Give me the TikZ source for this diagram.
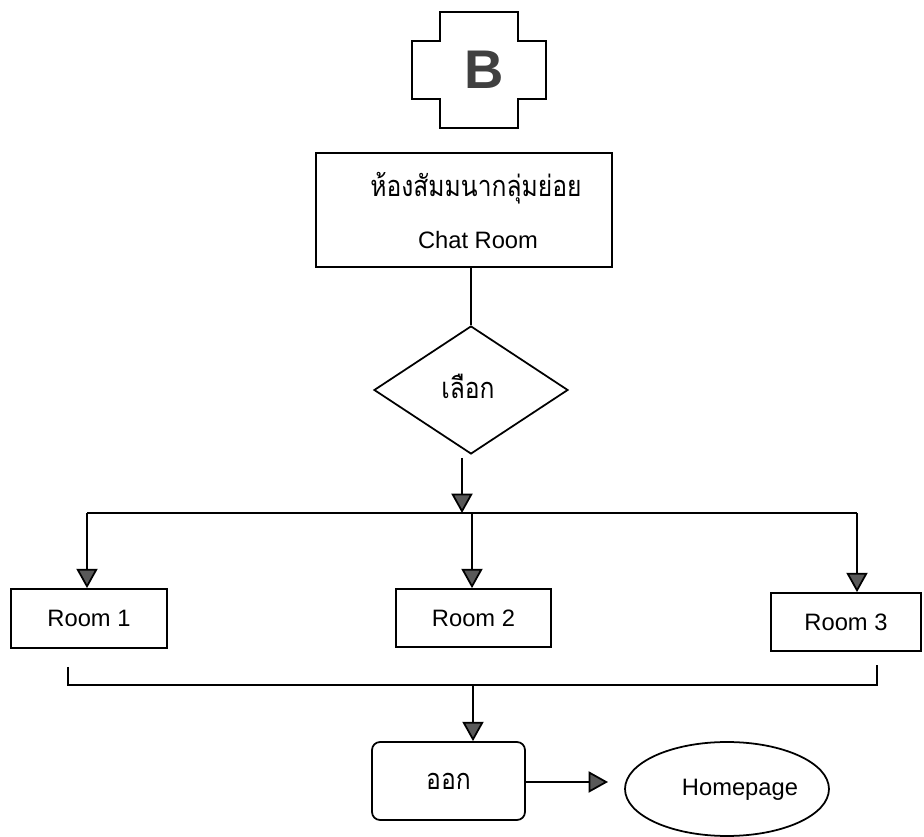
\documentclass[tikz,border=0pt]{standalone}
\usepackage{fontspec}
\setmainfont{Liberation Sans}
\newfontfamily\thaifont[Script=Thai, FakeStretch=0.85]{Loma}
\usetikzlibrary{arrows.meta,shapes.geometric}

\tikzset{
  line/.style={line width=1pt, draw=black},
  arr/.style={line, -{Triangle[length=11pt,width=12pt,fill=black!65]}},
  roombox/.style={line, rectangle, inner sep=0pt, font=\fontsize{13.5}{16}\selectfont},
  lbl/.style={inner sep=0pt, font=\fontsize{13.5}{16}\selectfont},
  thlbl/.style={inner sep=0pt, font=\thaifont\fontsize{16.5}{19}\selectfont},
}

\begin{document}
\begin{tikzpicture}[x=0.02cm, y=-0.02cm]
\useasboundingbox (0,0) rectangle (924,837);

% connector symbol B
\draw[line] (440,12) -- (518,12) -- (518,41) -- (546,41) -- (546,99) -- (518,99)
  -- (518,128) -- (440,128) -- (440,99) -- (412,99) -- (412,41) -- (440,41) -- cycle;
\node[inner sep=0pt, text=black!75, font=\bfseries\fontsize{31}{32}\selectfont] (bmark) at (484,70) {B};

% chat room box
\node[roombox, minimum width=5.92cm, minimum height=2.28cm] (chat) at (464,210) {};
\node[thlbl] (chatth) at (476,188) {ห้องสัมมนากลุ่มย่อย};
\node[lbl] (chaten) at (478,240) {Chat Room};

% decision
\node[line, diamond, minimum width=3.88cm, minimum height=2.56cm, inner sep=0pt] (dec) at (471,390) {};
\node[thlbl] (dectxt) at (468,386) {เลือก};
\draw[line] (chat.south -| dec.north) -- (dec.north);

% rooms
\node[roombox, minimum width=3.12cm, minimum height=1.18cm] (r1) at (89,618.5) {Room 1};
\node[roombox, minimum width=3.10cm, minimum height=1.16cm] (r2) at (473.5,618) {Room 2};
\node[roombox, minimum width=3.00cm, minimum height=1.16cm] (r3) at (846,622) {Room 3};

% upper bus
\coordinate (busL) at (87,513);
\coordinate (busR) at (857,513);
\coordinate (busM) at (472,513);
\coordinate (decout) at (462,458);
\draw[line] (busL) -- (busR);
\draw[arr] (decout) -- (decout |- busL);
\draw[arr] (busL) -- (busL |- r1.north);
\draw[arr] (busM) -- (busM |- r2.north);
\draw[arr] (busR) -- (busR |- r3.north);

% lower bus
\coordinate (lowL) at (68,667);
\coordinate (lowR) at (877,665);
\coordinate (lowM) at (473,685);
\draw[line] (lowL) -- (68,685) -- (877,685) -- (lowR);

% exit and homepage
\node[roombox, rounded corners=0.16cm, minimum width=3.06cm, minimum height=1.56cm, font=\thaifont\fontsize{16.5}{19}\selectfont] (exitbox) at (448.5,781) {ออก};
\node[line, ellipse, minimum width=4.08cm, minimum height=1.88cm, inner sep=0pt] (home) at (727,789) {};
\node[lbl] (homelbl) at (740,790) {Homepage};
\coordinate (exitend) at (608,782);
\draw[arr] (lowM) -- (lowM |- exitbox.north);
\draw[arr] (exitbox.east |- exitend) -- (exitend);
\end{tikzpicture}
\end{document}
